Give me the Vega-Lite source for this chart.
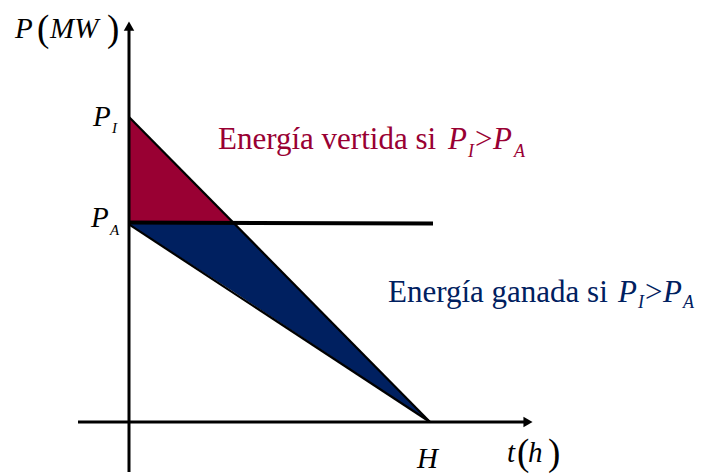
{
  "$schema": "https://vega.github.io/schema/vega-lite/v6.json",
  "width": 702,
  "height": 475,
  "autosize": {"type": "fit", "contains": "padding"},
  "padding": 0,
  "background": "white",
  "config": {"view": {"stroke": null}, "text": {"font": "'Liberation Serif', 'Times New Roman', serif"}},
  "datasets": {
    "regions": [
      {"region": "vertida", "t": 0, "p": 1, "p2": 0.654},
      {"region": "vertida", "t": 0.346, "p": 0.654, "p2": 0.654},
      {"region": "ganada", "t": 0, "p": 0.654, "p2": 0.648},
      {"region": "ganada", "t": 0.346, "p": 0.654, "p2": 0.4277},
      {"region": "ganada", "t": 1, "p": 0, "p2": 0}
    ],
    "thin": [
      {"name": "PI-H", "t": 0, "p": 1, "t2": 1, "p2": 0},
      {"name": "PA-H", "t": 0, "p": 0.648, "t2": 1, "p2": 0}
    ],
    "thick": [
      {"name": "PA", "t": 0, "p": 0.654, "t2": 1.01, "p2": 0.651}
    ],
    "axes": [
      {"name": "tiempo", "t": -0.1694, "p": 0, "t2": 1.315, "p2": 0},
      {"name": "potencia", "t": 0, "p": -0.164, "t2": 0, "p2": 1.285}
    ],
    "arrowX": [{"t": 1.3256, "p": 0}],
    "arrowY": [{"t": 0, "p": 1.298}],
    "blackItalic": [
      {"t": -0.3787, "p": 1.259, "text": "P"},
      {"t": -0.2625, "p": 1.259, "text": "MW"},
      {"t": -0.1196, "p": 0.9705, "text": "P"},
      {"t": -0.1262, "p": 0.6393, "text": "P"},
      {"t": 0.9568, "p": -0.1508, "text": "H"},
      {"t": 1.2558, "p": -0.1311, "text": "t"},
      {"t": 1.3256, "p": -0.1311, "text": "h"}
    ],
    "blackSub": [
      {"t": -0.0565, "p": 0.9475, "text": "I"},
      {"t": -0.0631, "p": 0.6131, "text": "A"}
    ],
    "parens": [
      {"t": -0.3056, "p": 1.2492, "text": "("},
      {"t": -0.0731, "p": 1.2492, "text": ")"},
      {"t": 1.289, "p": -0.141, "text": "("},
      {"t": 1.392, "p": -0.141, "text": ")"}
    ],
    "annotUpright": [
      {"group": "vertida", "t": 0.2957, "p": 0.8951, "text": "Energía vertida si"},
      {"group": "vertida", "t": 1.1495, "p": 0.8951, "text": ">"},
      {"group": "ganada", "t": 0.8605, "p": 0.3934, "text": "Energía ganada si"},
      {"group": "ganada", "t": 1.7143, "p": 0.3934, "text": ">"}
    ],
    "annotItalic": [
      {"group": "vertida", "t": 1.0598, "p": 0.8951, "text": "P"},
      {"group": "vertida", "t": 1.2093, "p": 0.8951, "text": "P"},
      {"group": "ganada", "t": 1.6246, "p": 0.3934, "text": "P"},
      {"group": "ganada", "t": 1.7741, "p": 0.3934, "text": "P"}
    ],
    "annotSub": [
      {"group": "vertida", "t": 1.1262, "p": 0.8689, "text": "I"},
      {"group": "vertida", "t": 1.2791, "p": 0.8689, "text": "A"},
      {"group": "ganada", "t": 1.691, "p": 0.3738, "text": "I"},
      {"group": "ganada", "t": 1.8405, "p": 0.3738, "text": "A"}
    ]
  },
  "encoding": {
    "x": {"field": "t", "type": "quantitative", "axis": null,
          "scale": {"domain": [-0.42857, 1.90365], "nice": false, "zero": false}},
    "y": {"field": "p", "type": "quantitative", "axis": null,
          "scale": {"domain": [-0.17377, 1.38361], "nice": false, "zero": false}}
  },
  "layer": [
    {
      "data": {"name": "regions"},
      "mark": {"type": "area", "opacity": 1},
      "encoding": {
        "y2": {"field": "p2"},
        "detail": {"field": "region"},
        "fill": {"field": "region", "type": "nominal", "legend": null,
                 "scale": {"domain": ["vertida", "ganada"], "range": ["#990033", "#002060"]}}
      }
    },
    {
      "data": {"name": "thin"},
      "mark": {"type": "rule", "color": "black", "strokeWidth": 2.2},
      "encoding": {"x2": {"field": "t2"}, "y2": {"field": "p2"}}
    },
    {
      "data": {"name": "thick"},
      "mark": {"type": "rule", "color": "black", "strokeWidth": 4},
      "encoding": {"x2": {"field": "t2"}, "y2": {"field": "p2"}}
    },
    {
      "data": {"name": "axes"},
      "mark": {"type": "rule", "color": "black", "strokeWidth": 3},
      "encoding": {"x2": {"field": "t2"}, "y2": {"field": "p2"}}
    },
    {
      "data": {"name": "arrowX"},
      "mark": {"type": "point", "shape": "triangle-right", "filled": true, "color": "black", "size": 110, "opacity": 1},
      "encoding": {}
    },
    {
      "data": {"name": "arrowY"},
      "mark": {"type": "point", "shape": "triangle-up", "filled": true, "color": "black", "size": 110, "opacity": 1},
      "encoding": {}
    },
    {
      "data": {"name": "blackItalic"},
      "mark": {"type": "text", "fontStyle": "italic", "fontSize": 29, "align": "left", "baseline": "alphabetic", "color": "black"},
      "encoding": {"text": {"field": "text"}}
    },
    {
      "data": {"name": "blackSub"},
      "mark": {"type": "text", "fontStyle": "italic", "fontSize": 15, "align": "left", "baseline": "alphabetic", "color": "black"},
      "encoding": {"text": {"field": "text"}}
    },
    {
      "data": {"name": "parens"},
      "mark": {"type": "text", "fontSize": 37, "align": "left", "baseline": "alphabetic", "color": "black"},
      "encoding": {"text": {"field": "text"}}
    },
    {
      "data": {"name": "annotUpright"},
      "mark": {"type": "text", "fontSize": 31, "align": "left", "baseline": "alphabetic"},
      "encoding": {
        "text": {"field": "text"},
        "color": {"field": "group", "type": "nominal", "legend": null,
                  "scale": {"domain": ["vertida", "ganada"], "range": ["#990033", "#002060"]}}
      }
    },
    {
      "data": {"name": "annotItalic"},
      "mark": {"type": "text", "fontStyle": "italic", "fontSize": 31, "align": "left", "baseline": "alphabetic"},
      "encoding": {
        "text": {"field": "text"},
        "color": {"field": "group", "type": "nominal", "legend": null,
                  "scale": {"domain": ["vertida", "ganada"], "range": ["#990033", "#002060"]}}
      }
    },
    {
      "data": {"name": "annotSub"},
      "mark": {"type": "text", "fontStyle": "italic", "fontSize": 18, "align": "left", "baseline": "alphabetic"},
      "encoding": {
        "text": {"field": "text"},
        "color": {"field": "group", "type": "nominal", "legend": null,
                  "scale": {"domain": ["vertida", "ganada"], "range": ["#990033", "#002060"]}}
      }
    }
  ]
}
